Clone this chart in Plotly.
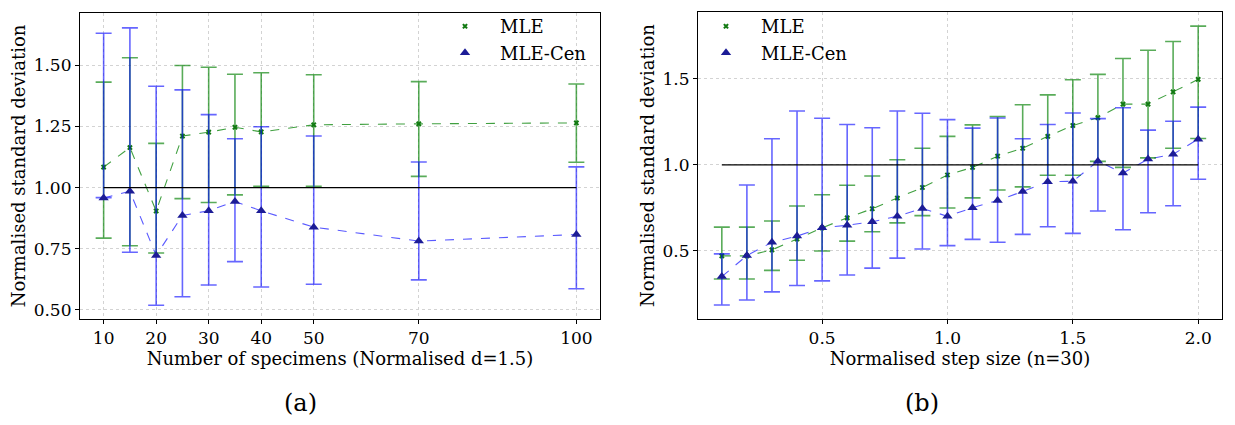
import plotly.graph_objects as go

# ---------- Panel (a): number of specimens ----------
n_specimens = [10, 15, 20, 25, 30, 35, 40, 50, 70, 100]
mle_a = [1.084, 1.164, 0.904, 1.211, 1.227, 1.247, 1.228, 1.257, 1.261, 1.265]
mle_a_up = [1.432, 1.532, 1.181, 1.500, 1.493, 1.464, 1.470, 1.462, 1.434, 1.424]
mle_a_lo = [0.793, 0.762, 0.732, 0.955, 0.939, 0.970, 1.005, 1.005, 1.046, 1.104]
cen_a = [0.957, 0.985, 0.722, 0.886, 0.905, 0.943, 0.905, 0.838, 0.781, 0.808]
cen_a_up = [1.632, 1.654, 1.415, 1.400, 1.299, 1.200, 1.249, 1.211, 1.105, 1.085]
cen_a_lo = [0.959, 0.735, 0.518, 0.553, 0.601, 0.697, 0.593, 0.604, 0.622, 0.586]
ref_a_x = [10, 100]
ref_a_y = [1.0, 1.0]

# ---------- Panel (b): step size ----------
step_size = [0.1, 0.2, 0.3, 0.4, 0.5, 0.6, 0.7, 0.8, 0.9, 1.0,
             1.1, 1.2, 1.3, 1.4, 1.5, 1.6, 1.7, 1.8, 1.9, 2.0]
mle_b = [0.471, 0.471, 0.506, 0.569, 0.634, 0.692, 0.745, 0.807, 0.868, 0.941,
         0.985, 1.050, 1.096, 1.165, 1.228, 1.274, 1.352, 1.352, 1.423, 1.496]
mle_b_up = [0.638, 0.638, 0.674, 0.761, 0.826, 0.881, 0.935, 1.029, 1.096, 1.165,
            1.232, 1.280, 1.349, 1.406, 1.494, 1.525, 1.617, 1.665, 1.716, 1.805]
mle_b_lo = [0.337, 0.337, 0.387, 0.446, 0.500, 0.557, 0.611, 0.663, 0.705, 0.749,
            0.808, 0.854, 0.872, 0.939, 0.939, 1.020, 0.985, 1.040, 1.096, 1.153]
cen_b = [0.351, 0.473, 0.550, 0.586, 0.634, 0.649, 0.669, 0.701, 0.747, 0.701,
         0.751, 0.793, 0.845, 0.902, 0.904, 1.021, 0.952, 1.033, 1.061, 1.149]
cen_b_up = [0.483, 0.883, 1.151, 1.312, 1.270, 1.234, 1.215, 1.312, 1.299, 1.262,
            1.213, 1.272, 1.151, 1.234, 1.301, 1.268, 1.331, 1.201, 1.253, 1.335]
cen_b_lo = [0.186, 0.215, 0.262, 0.299, 0.326, 0.360, 0.400, 0.458, 0.511, 0.531,
            0.567, 0.550, 0.596, 0.640, 0.602, 0.732, 0.623, 0.722, 0.762, 0.916]
ref_b_x = [0.1, 2.0]
ref_b_y = [1.0, 1.0]

FONT = "DejaVu Serif"
GREEN_BAR = "rgba(0,128,0,0.65)"
GREEN_LINE = "rgba(0,128,0,0.75)"
GREEN_MK = "#127a12"
BLUE_BAR = "rgba(0,0,255,0.6)"
BLUE_LINE = "rgba(0,0,255,0.65)"
BLUE_MK = "#1c1c96"

# figure is placed inside the page body (8px default margin)
W, H, OFF = 1219, 409, 8


def px(xp):
    return (xp - OFF) / W


def py(yp):
    return 1 - (yp - OFF) / H


def diff(a, b):
    return [round(x - y, 4) for x, y in zip(a, b)]


fig = go.Figure()


def add_panel(xs, m, mu, ml, c, cu, cl, rx, ry, xa, ya, legend):
    fig.add_trace(go.Scatter(x=xs, y=m, mode="lines", xaxis=xa, yaxis=ya,
                             line=dict(color=GREEN_LINE, width=1.1, dash="dash"),
                             showlegend=False, hoverinfo="skip"))
    fig.add_trace(go.Scatter(x=xs, y=c, mode="lines", xaxis=xa, yaxis=ya,
                             line=dict(color=BLUE_LINE, width=1.1, dash="dash"),
                             showlegend=False, hoverinfo="skip"))
    fig.add_trace(go.Scatter(
        x=xs, y=m, mode="markers", name="MLE", xaxis=xa, yaxis=ya, legend=legend,
        marker=dict(symbol="x", size=5, color=GREEN_MK),
        error_y=dict(type="data", symmetric=False, array=diff(mu, m),
                     arrayminus=diff(m, ml), color=GREEN_BAR, thickness=1.6, width=8)))
    fig.add_trace(go.Scatter(
        x=xs, y=c, mode="markers", name="MLE-Cen", xaxis=xa, yaxis=ya, legend=legend,
        marker=dict(symbol="triangle-up", size=9, color=BLUE_MK),
        error_y=dict(type="data", symmetric=False, array=diff(cu, c),
                     arrayminus=diff(c, cl), color=BLUE_BAR, thickness=1.6, width=8)))
    fig.add_trace(go.Scatter(x=rx, y=ry, mode="lines", xaxis=xa, yaxis=ya,
                             line=dict(color="black", width=1.2),
                             showlegend=False, hoverinfo="skip"))


add_panel(n_specimens, mle_a, mle_a_up, mle_a_lo, cen_a, cen_a_up, cen_a_lo,
          ref_a_x, ref_a_y, "x", "y", "legend")
add_panel(step_size, mle_b, mle_b_up, mle_b_lo, cen_b, cen_b_up, cen_b_lo,
          ref_b_x, ref_b_y, "x2", "y2", "legend2")

TICK = 17
axis_common = dict(showline=True, linecolor="black", linewidth=1.2, mirror=True,
                   ticks="outside", ticklen=4, tickcolor="black", showgrid=True,
                   gridcolor="#d3d3d3", griddash="dot", gridwidth=1, zeroline=False,
                   tickfont=dict(family=FONT, size=TICK, color="black"))
title_font = dict(family=FONT, size=18, color="black")
legend_font = dict(family=FONT, size=18, color="black")

fig.update_layout(
    width=W, height=H, margin=dict(l=0, r=0, t=0, b=0),
    paper_bgcolor="white", plot_bgcolor="white",
    font=dict(family=FONT, color="black"),
    xaxis=dict(domain=[px(80), px(600)], range=[5.5, 104.5],
               tickvals=[10, 20, 30, 40, 50, 70, 100],
               title=dict(text="Number of specimens (Normalised d=1.5)", font=title_font, standoff=4),
               **axis_common),
    yaxis=dict(domain=[py(318), py(9)], range=[0.462, 1.715],
               tickvals=[0.5, 0.75, 1.0, 1.25, 1.5], tickformat=".2f",
               title=dict(text="Normalised standard deviation", font=title_font, standoff=3),
               **axis_common),
    xaxis2=dict(domain=[px(698), px(1222)], range=[0.005, 2.095], anchor="y2",
                tickvals=[0.5, 1.0, 1.5, 2.0], tickformat=".1f",
                title=dict(text="Normalised step size (n=30)", font=title_font, standoff=4),
                **axis_common),
    yaxis2=dict(domain=[py(318), py(8)], range=[0.105, 1.887], anchor="x2",
                tickvals=[0.5, 1.0, 1.5], tickformat=".1f",
                title=dict(text="Normalised standard deviation", font=title_font, standoff=3),
                **axis_common),
    legend=dict(x=px(592), y=py(4), xanchor="right", yanchor="top",
                bgcolor="rgba(0,0,0,0)", borderwidth=0, itemwidth=60,
                font=legend_font, tracegroupgap=0),
    legend2=dict(x=px(691), y=py(4), xanchor="left", yanchor="top",
                 bgcolor="rgba(0,0,0,0)", borderwidth=0, itemwidth=60,
                 font=legend_font, tracegroupgap=0),
    annotations=[
        dict(text="(a)", x=px(300), y=py(403), xref="paper", yref="paper", showarrow=False,
             xanchor="center", yanchor="middle",
             font=dict(family=FONT, size=24, color="black")),
        dict(text="(b)", x=px(922), y=py(403), xref="paper", yref="paper", showarrow=False,
             xanchor="center", yanchor="middle",
             font=dict(family=FONT, size=24, color="black")),
    ],
)

fig.write_html("out.html")
